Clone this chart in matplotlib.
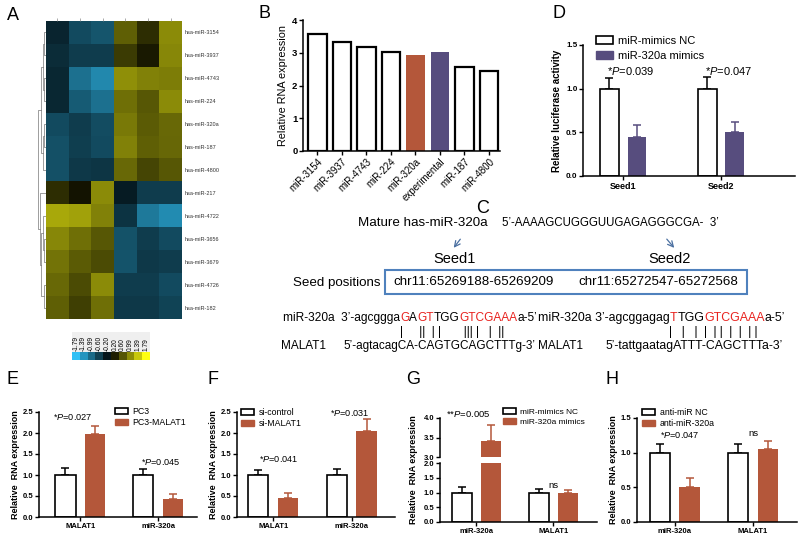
import numpy as np
import matplotlib
matplotlib.use("Agg")
import matplotlib.pyplot as plt
from matplotlib.colors import LinearSegmentedColormap
from matplotlib.offsetbox import TextArea, HPacker, AnnotationBbox
from matplotlib.patches import Rectangle

plt.rcParams['font.family'] = ['Liberation Sans', 'DejaVu Sans']
plt.rcParams['mathtext.fontset'] = 'custom'
plt.rcParams['mathtext.rm'] = 'Liberation Sans'
plt.rcParams['mathtext.it'] = 'Liberation Sans:italic'

# ---------------- data ----------------
heat_rows = ['hsa-miR-3154', 'hsa-miR-3937', 'hsa-miR-4743', 'has-miR-224',
             'has-miR-320a', 'has-miR-187', 'hsa-miR-4800', 'hsa-miR-217',
             'hsa-miR-4722', 'hsa-miR-3656', 'hsa-miR-3679', 'hsa-miR-4726',
             'hsa-miR-182']
heat_vals = [
    [-0.34, -0.69, -0.79, 0.66, 0.32, 0.97],
    [-0.41, -0.56, -0.56, 0.41, 0.18, 0.94],
    [-0.37, -1.04, -1.27, 1.00, 0.90, 0.88],
    [-0.37, -0.84, -1.04, 0.77, 0.61, 0.97],
    [-0.69, -0.56, -0.71, 0.84, 0.63, 0.74],
    [-0.75, -0.58, -0.69, 0.90, 0.67, 0.72],
    [-0.75, -0.52, -0.50, 0.74, 0.48, 0.61],
    [0.32, 0.13, 0.97, -0.26, -0.56, -0.56],
    [1.18, 1.12, 0.90, -0.48, -1.12, -1.29],
    [0.95, 0.77, 0.61, -0.76, -0.56, -0.69],
    [0.80, 0.63, 0.52, -0.78, -0.52, -0.56],
    [0.74, 0.52, 0.97, -0.56, -0.56, -0.69],
    [0.66, 0.44, 0.77, -0.52, -0.52, -0.62],
]
heat_tree = ((((0, 1), (2, 3)), ((4, 5), 6)), (7, ((8, (9, 10)), (11, 12))))
cbar_ticks = [-1.79, -1.39, -0.99, -0.60, -0.20, 0.20, 0.60, 0.99, 1.39, 1.79]

b_labels = ['miR-3154', 'miR-3937', 'miR-4743', 'miR-224', 'miR-320a',
            'experimental', 'miR-187', 'miR-4800']
b_values = [3.57, 3.34, 3.18, 3.02, 2.93, 3.03, 2.56, 2.44]

d_groups = ['Seed1', 'Seed2']
d_ctrl, d_ctrl_err = [1.0, 1.0], [0.12, 0.13]
d_trt, d_trt_err = [0.45, 0.50], [0.13, 0.115]

e_groups = ['MALAT1', 'miR-320a']
e_ctrl, e_ctrl_err = [1.0, 1.0], [0.16, 0.14]
e_trt, e_trt_err = [1.97, 0.42], [0.20, 0.13]

f_groups = ['MALAT1', 'miR-320a']
f_ctrl, f_ctrl_err = [1.0, 1.0], [0.12, 0.14]
f_trt, f_trt_err = [0.46, 2.05], [0.10, 0.28]

g_groups = ['miR-320a', 'MALAT1']
g_ctrl, g_ctrl_err = [1.0, 1.0], [0.17, 0.12]
g_trt, g_trt_err = [3.42, 0.97], [0.40, 0.13]

h_groups = ['miR-320a', 'MALAT1']
h_ctrl, h_ctrl_err = [1.0, 1.0], [0.13, 0.12]
h_trt, h_trt_err = [0.50, 1.05], [0.13, 0.12]

BROWN = '#b4573a'
PURPLE = '#574d7e'
RED = '#e8231f'

W, H = 800, 539
fig = plt.figure(figsize=(W / 100, H / 100), dpi=100)


def box(x0, y0, x1, y1):
    return [x0 / W, 1 - y1 / H, (x1 - x0) / W, (y1 - y0) / H]


def ftext(x, y, s, **kw):
    fig.text(x / W, 1 - y / H, s, **kw)


def style_axes(ax, labelsize=5.5):
    for side in ['top', 'right']:
        ax.spines[side].set_visible(False)
    for side in ['left', 'bottom']:
        ax.spines[side].set_linewidth(1.1)
    ax.tick_params(direction='out', length=3, width=1, labelsize=labelsize, pad=1)
    for lab in ax.get_xticklabels() + ax.get_yticklabels():
        lab.set_fontweight('bold')


def grouped(ax, groups, ctrl, ctrl_err, trt, trt_err, color, off, width, xlim):
    x = np.arange(len(groups))
    zero = np.zeros(len(groups))
    ax.errorbar(x - off, ctrl, yerr=[zero, ctrl_err], fmt='none', ecolor='black',
                elinewidth=1.1, capsize=2.6, capthick=1.1, zorder=1)
    ax.bar(x - off, ctrl, width, color='white', edgecolor='black', linewidth=1.2, zorder=2)
    ax.errorbar(x + off, trt, yerr=[zero, trt_err], fmt='none', ecolor=color,
                elinewidth=1.1, capsize=2.6, capthick=1.1, zorder=1)
    ax.bar(x + off, trt, width, color=color, linewidth=0, zorder=2)
    ax.set_xlim(*xlim)
    ax.set_xticks(x)
    ax.set_xticklabels(groups)


def legend(ax, labels, color, x, y, fs, spacing=0.25):
    hs = [Rectangle((0, 0), 1, 1, facecolor='white', edgecolor='black', linewidth=1.2),
          Rectangle((0, 0), 1, 1, facecolor=color, edgecolor=color)]
    ax.legend(hs, labels, loc='upper left', bbox_to_anchor=(x / W, 1 - y / H),
              bbox_transform=fig.transFigure, frameon=False, fontsize=fs,
              borderpad=0, borderaxespad=0, handlelength=1.5, handleheight=0.7,
              handletextpad=0.5, labelspacing=spacing)


# ---------------- panel A: heatmap ----------------
cmap = LinearSegmentedColormap.from_list('cb', ['#30c0f5', '#000000', '#ffff10'])
ax_a = fig.add_axes(box(46, 21, 182, 319))
ax_a.imshow(np.array(heat_vals), cmap=cmap, vmin=-1.79, vmax=1.79,
            aspect='auto', interpolation='nearest')
ax_a.set_yticks(range(len(heat_rows)))
ax_a.set_yticklabels(heat_rows, fontsize=4, color='#333333')
ax_a.yaxis.tick_right()
ax_a.xaxis.tick_top()
ax_a.set_xticks(range(6))
ax_a.set_xticklabels([])
ax_a.tick_params(axis='y', length=0, pad=2)
ax_a.tick_params(axis='x', length=2, width=0.5, color='#888888')
for sp in ax_a.spines.values():
    sp.set_visible(False)

# dendrogram
ax_dn = fig.add_axes(box(38, 21, 46, 319))
ax_dn.set_ylim(len(heat_rows) - 0.5, -0.5)
ax_dn.axis('off')


def dendro(node):
    if isinstance(node, int):
        return node, 0
    (y1, h1), (y2, h2) = dendro(node[0]), dendro(node[1])
    h = max(h1, h2) + 1
    ax_dn.plot([h1, h, h, h2], [y1, y1, y2, y2], color='#777777', lw=0.5)
    return (y1 + y2) / 2, h


_, top_h = dendro(heat_tree)
ax_dn.set_xlim(top_h + 0.3, 0)

# colour key
ax_cb = fig.add_axes(box(72, 352, 150, 360))
ax_cb.imshow(np.array([cbar_ticks]), cmap=cmap, vmin=-1.79, vmax=1.79,
             aspect='auto', interpolation='nearest')
ax_cb.axis('off')
ax_cbl = fig.add_axes(box(72, 332, 150, 352))
ax_cbl.set_facecolor('#efefef')
ax_cbl.set_xlim(-0.5, len(cbar_ticks) - 0.5)
ax_cbl.set_ylim(0, 1)
for i, t in enumerate(cbar_ticks):
    ax_cbl.text(i, 0.03, '%.2f' % t, rotation=90, ha='center', va='bottom', fontsize=4.8)
ax_cbl.set_xticks([])
ax_cbl.set_yticks([])
for sp in ax_cbl.spines.values():
    sp.set_visible(False)

# ---------------- panel B ----------------
ax_b = fig.add_axes(box(303, 20, 500, 151))
bx = np.arange(len(b_labels))
b_face = ['white'] * len(b_labels)
b_face[4] = BROWN
b_face[5] = PURPLE
for xi, v, fc in zip(bx, b_values, b_face):
    if fc == 'white':
        ax_b.bar(xi, v, 0.75, color='white', edgecolor='black', linewidth=1.6)
    else:
        ax_b.bar(xi, v, 0.75, color=fc, linewidth=0)
ax_b.set_xlim(-0.59, 7.45)
ax_b.set_ylim(0, 4)
ax_b.set_yticks([0, 1, 2, 3, 4])
ax_b.set_xticks(bx)
ax_b.set_xticklabels(b_labels, rotation=45, ha='right', rotation_mode='anchor', fontsize=7)
ax_b.set_ylabel('Relative RNA expression', fontsize=7.8, labelpad=3)
style_axes(ax_b, labelsize=6.8)
for lab in ax_b.get_xticklabels():
    lab.set_fontweight('normal')
    lab.set_fontsize(7)

# ---------------- panel D ----------------
ax_d = fig.add_axes(box(583, 45, 795, 176))
grouped(ax_d, d_groups, d_ctrl, d_ctrl_err, d_trt, d_trt_err, PURPLE, 0.14, 0.19, (-0.41, 1.755))
ax_d.set_ylim(0, 1.5)
ax_d.set_yticks([0, 0.5, 1.0, 1.5])
ax_d.set_yticklabels(['0.0', '0.5', '1.0', '1.5'])
ax_d.set_ylabel('Relative luciferase activity', fontsize=7, fontweight='bold', labelpad=3)
style_axes(ax_d, labelsize=5.8)
for lab in ax_d.get_xticklabels():
    lab.set_fontsize(6.5)
legend(ax_d, ['miR-mimics NC', 'miR-320a mimics'], PURPLE, 596, 36, 8, spacing=0.45)
ftext(631, 71, '*$P$=0.039', fontsize=8, ha='center', va='center')
ftext(729, 71, '*$P$=0.047', fontsize=8, ha='center', va='center')

# ---------------- panels E-H ----------------
ylab = 'Relative  RNA expression'

ax_e = fig.add_axes(box(39, 412, 197, 517))
grouped(ax_e, e_groups, e_ctrl, e_ctrl_err, e_trt, e_trt_err, BROWN, 0.19, 0.26, (-0.53, 1.5))
ax_e.set_ylim(0, 2.5)
ax_e.set_yticks(np.arange(0, 2.6, 0.5))
ax_e.set_yticklabels(['%.1f' % v for v in np.arange(0, 2.6, 0.5)])
ax_e.set_ylabel(ylab, fontsize=6.5, fontweight='bold', labelpad=2)
style_axes(ax_e)
legend(ax_e, ['PC3', 'PC3-MALAT1'], BROWN, 115, 407, 6.3)
ftext(73, 417, '*$P$=0.027', fontsize=6.6, ha='center', va='center')
ftext(161, 462, '*$P$=0.045', fontsize=6.6, ha='center', va='center')

ax_f = fig.add_axes(box(237, 412, 395, 517))
grouped(ax_f, f_groups, f_ctrl, f_ctrl_err, f_trt, f_trt_err, BROWN, 0.19, 0.26, (-0.46, 1.55))
ax_f.set_ylim(0, 2.5)
ax_f.set_yticks(np.arange(0, 2.6, 0.5))
ax_f.set_yticklabels(['%.1f' % v for v in np.arange(0, 2.6, 0.5)])
ax_f.set_ylabel(ylab, fontsize=6.5, fontweight='bold', labelpad=2)
style_axes(ax_f)
legend(ax_f, ['si-control', 'si-MALAT1'], BROWN, 241, 408, 6.3)
ftext(279, 459, '*$P$=0.041', fontsize=6.6, ha='center', va='center')
ftext(350, 413, '*$P$=0.031', fontsize=6.6, ha='center', va='center')

# G: broken axis
ax_gb = fig.add_axes(box(440, 463, 597, 522))
grouped(ax_gb, g_groups, g_ctrl, g_ctrl_err, g_trt, g_trt_err, BROWN, 0.19, 0.26, (-0.47, 1.57))
ax_gb.set_ylim(0, 2.0)
ax_gb.set_yticks(np.arange(0, 2.1, 0.5))
ax_gb.set_yticklabels(['%.1f' % v for v in np.arange(0, 2.1, 0.5)])
style_axes(ax_gb)
ax_gt = fig.add_axes(box(440, 418, 597, 457))
grouped(ax_gt, g_groups, g_ctrl, g_ctrl_err, g_trt, g_trt_err, BROWN, 0.19, 0.26, (-0.47, 1.57))
ax_gt.set_ylim(3.0, 4.0)
ax_gt.set_yticks([3.0, 3.5, 4.0])
ax_gt.set_yticklabels(['3.0', '3.5', '4.0'])
style_axes(ax_gt)
ax_gt.spines['bottom'].set_visible(False)
ax_gt.set_xticks([])
ftext(414, 470, ylab, fontsize=6.5, fontweight='bold', rotation=90, ha='center', va='center')
legend(ax_gt, ['miR-mimics NC', 'miR-320a mimics'], BROWN, 503, 408, 6.0)
ftext(468, 414, '**$P$=0.005', fontsize=6.8, ha='center', va='center')
ftext(553, 486, 'ns', fontsize=6.8, ha='center', va='center')

ax_h = fig.add_axes(box(637, 418, 797, 522))
grouped(ax_h, h_groups, h_ctrl, h_ctrl_err, h_trt, h_trt_err, BROWN, 0.19, 0.26, (-0.48, 1.56))
ax_h.set_ylim(0, 1.5)
ax_h.set_yticks([0, 0.5, 1.0, 1.5])
ax_h.set_yticklabels(['0.0', '0.5', '1.0', '1.5'])
ax_h.set_ylabel(ylab, fontsize=6.5, fontweight='bold', labelpad=2)
style_axes(ax_h)
legend(ax_h, ['anti-miR NC', 'anti-miR-320a'], BROWN, 642, 408, 6.3)
ftext(680, 435, '*$P$=0.047', fontsize=6.6, ha='center', va='center')
ftext(753, 434, 'ns', fontsize=6.8, ha='center', va='center')

# ---------------- panel C: sequences (pixel coordinates) ----------------
ax_c = fig.add_axes([0, 0, 1, 1], zorder=-1)
ax_c.set_xlim(0, W)
ax_c.set_ylim(H, 0)
ax_c.axis('off')


def seq(x, y, parts, fs=8.6):
    kids = [TextArea(s, textprops=dict(fontsize=fs, color=c)) for s, c in parts]
    pack = HPacker(children=kids, align='baseline', pad=0, sep=0)
    ab = AnnotationBbox(pack, (x, y), xycoords='data', frameon=False,
                        box_alignment=(0, 0.5), pad=0)
    ax_c.add_artist(ab)


ax_c.text(358, 223, 'Mature has-miR-320a', fontsize=9.6, va='center')
ax_c.text(502, 223, "5’-AAAAGCUGGGUUGAGAGGGCGA-  3’", fontsize=8.3, va='center')
ax_c.annotate('', xy=(452, 250), xytext=(462, 237),
              arrowprops=dict(arrowstyle='->', color='#4a6fa0', lw=0.9))
ax_c.annotate('', xy=(676, 250), xytext=(665, 237),
              arrowprops=dict(arrowstyle='->', color='#4a6fa0', lw=0.9))
ax_c.text(455, 259, 'Seed1', fontsize=10.5, ha='center', va='center')
ax_c.text(670, 259, 'Seed2', fontsize=10.5, ha='center', va='center')
ax_c.text(293, 283, 'Seed positions', fontsize=9.6, va='center')
ax_c.add_patch(Rectangle((385, 270), 362, 24, fill=False, edgecolor='#4f81bd', lw=1.5))
ax_c.text(393, 282, 'chr11:65269188-65269209', fontsize=9.6, va='center')
ax_c.text(578, 282, 'chr11:65272547-65272568', fontsize=9.6, va='center')

seq(283, 318, [("miR-320a  3’-agcggga", 'black'), ("G", RED), ("A", 'black'),
               ("GT", RED), ("TGG", 'black'), ("GTCGAAA", RED), ("a-5’", 'black')])
seq(538, 318, [("miR-320a 3’-agcggagag", 'black'), ("T", RED), ("TGG", 'black'),
               ("GTCGAAA", RED), ("a-5’", 'black')], fs=8.9)
ax_c.text(400, 332, "|     ||  | |       ||| |   |  ||", fontsize=8.5, va='center')
ax_c.text(669, 332, "|   |   |  |  | |  |  |  | |", fontsize=8.5, va='center')
ax_c.text(281, 346, 'MALAT1', fontsize=8.5, va='center')
ax_c.text(343, 346, "5’-agtacagCA-CAGTGCAGCTTTg-3’", fontsize=8.5, va='center')
ax_c.text(538, 346, 'MALAT1', fontsize=8.5, va='center')
ax_c.text(605, 346, "5’-tattgaatagATTT-CAGCTTTa-3’", fontsize=8.8, va='center')

# panel letters
for letter, x, y in [('A', 13, 15), ('B', 265, 14), ('D', 559, 13), ('C', 483, 208),
                     ('E', 12, 379), ('F', 213, 379), ('G', 413, 379), ('H', 612, 379)]:
    ftext(x, y, letter, fontsize=13, ha='center', va='center')

fig.savefig('out.png', dpi=100)
